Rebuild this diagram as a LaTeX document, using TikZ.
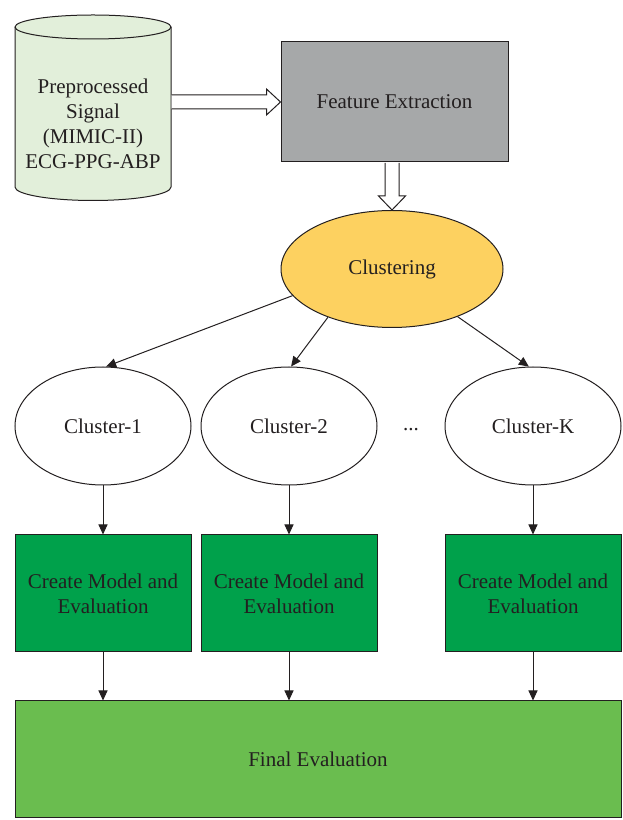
\documentclass[tikz,border=0pt]{standalone}
\usepackage{fontspec}
\setmainfont{Liberation Serif}
\usetikzlibrary{shapes.geometric,arrows.meta,calc}
\definecolor{txt}{HTML}{231F20}
\definecolor{cylfill}{HTML}{E2EFDA}
\definecolor{fegray}{HTML}{A6A8A9}
\definecolor{clusfill}{HTML}{FDD160}
\definecolor{modelgreen}{HTML}{00A14B}
\definecolor{finalgreen}{HTML}{6ABD4F}
\begin{document}
\begin{tikzpicture}[x=1pt,y=1pt,
  base/.style={font=\fontsize{21}{25}\selectfont, text=txt, align=center, inner sep=0pt},
  boxstyle/.style={base, rectangle, draw=txt, line width=1pt},
  ell/.style={base, ellipse, draw=txt, line width=1pt, minimum width=176pt, minimum height=118pt},
  modelbox/.style={boxstyle, fill=modelgreen, minimum width=176pt, minimum height=117pt},
  conn/.style={draw=txt, line width=1pt, -{Triangle[length=10pt,width=9pt]}},
  blockarrow/.style={draw=txt, line width=1pt, fill=white, line join=miter}]
\useasboundingbox (0,0) rectangle (623,820);
% cylinder
\path[fill=cylfill, draw=txt, line width=1pt] (15,793) -- (15,633)
  arc[start angle=180, end angle=360, x radius=78pt, y radius=13.5pt] -- (171,793)
  arc[start angle=0, end angle=180, x radius=78pt, y radius=12pt] -- cycle;
\draw[draw=txt, line width=1pt] (15,793) arc[start angle=180, end angle=360, x radius=78pt, y radius=12pt];
\node[inner sep=0pt, minimum width=156pt, minimum height=186pt] (cyl) at (93,713) {};
\node[base] (cyltxt) at (93,696.5) {Preprocessed\\Signal\\(MIMIC-II)\\ECG-PPG-ABP};
% feature extraction
\node[boxstyle, fill=fegray, minimum width=227pt, minimum height=120pt] (fe) at (394.5,718) {Feature Extraction};
% clustering
\node[base, ellipse, draw=txt, line width=1pt, fill=clusfill, minimum width=222pt, minimum height=117pt] (clus) at (392,551) {Clustering};
% clusters
\node[ell] (c1) at (103,394) {Cluster-1};
\node[ell] (c2) at (289,394) {Cluster-2};
\node[ell] (cK) at (533,394) {Cluster-K};
\node[base, anchor=base] (dots) at (411,389) {...};
% model boxes
\node[modelbox] (m1) at (103,226.5) {Create Model and\\Evaluation};
\node[modelbox] (m2) at (289,226.5) {Create Model and\\Evaluation};
\node[modelbox] (mK) at (533,226.5) {Create Model and\\Evaluation};
% final
\node[boxstyle, fill=finalgreen, minimum width=606pt, minimum height=117pt] (final) at (318,60.5) {Final Evaluation};
% block arrows
\draw[blockarrow] ($(cyl.east |- fe.west)+(0.5,7)$) -- ($(fe.west)+(-14,7)$) -- ($(fe.west)+(-14,13)$) -- (fe.west)
  -- ($(fe.west)+(-14,-13)$) -- ($(fe.west)+(-14,-7)$) -- ($(cyl.east |- fe.west)+(0.5,-7)$);
\draw[blockarrow] ($(fe.south -| clus.north)+(-7,-0.5)$) -- ($(clus.north)+(-7,14)$) -- ($(clus.north)+(-13.5,14)$) -- (clus.north)
  -- ($(clus.north)+(13.5,14)$) -- ($(clus.north)+(7,14)$) -- ($(fe.south -| clus.north)+(7,-0.5)$);
% connectors
\draw[conn] (clus.195.5) -- (c1.87);
\draw[conn] (clus.217.6) -- (c2.88);
\draw[conn] (clus.324.2) -- (cK.94);
\draw[conn] (c1.south) -- (m1.north);
\draw[conn] (c2.south) -- (m2.north);
\draw[conn] (cK.south) -- (mK.north);
\draw[conn] (m1.south) -- (final.north -| m1.south);
\draw[conn] (m2.south) -- (final.north -| m2.south);
\draw[conn] (mK.south) -- (final.north -| mK.south);
\end{tikzpicture}
\end{document}
